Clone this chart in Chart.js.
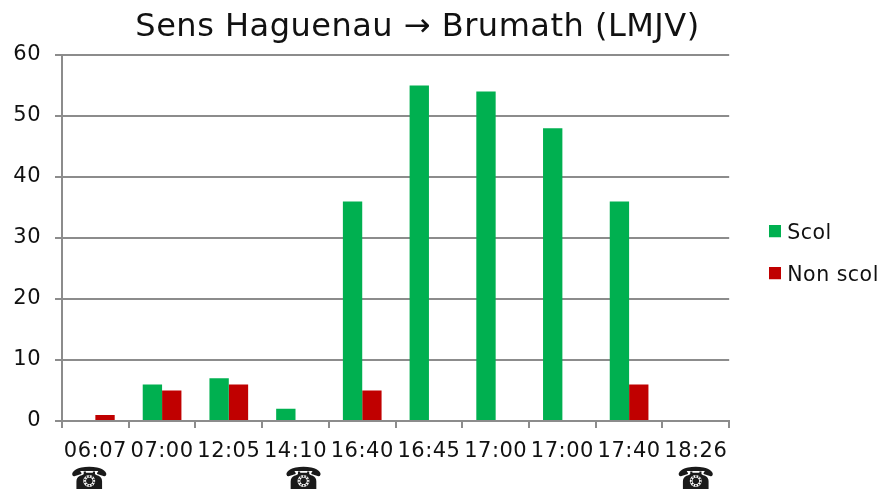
<!DOCTYPE html>
<html><head><meta charset="utf-8">
<style>html,body{margin:0;padding:0;background:#fff}#w{width:881px;height:492px;position:relative}</style>
<script src="https://cdn.jsdelivr.net/npm/chart.js@4"></script>
</head><body><div id="w"><canvas id="c" width="881" height="492"></canvas></div>
<script>
const categories=['06:07','07:00','12:05','14:10','16:40','16:45','17:00','17:00','17:40','18:26'];
const scol=[null,6,7,2,36,55,54,48,36,null];
const nonScol=[1,5,6,null,5,null,null,null,6,null];
const yTicks=[0,10,20,30,40,50,60];
const phoneCategories=[0,3,9];
const phoneNudges=[-6,8,0];
const FONT='"DejaVu Sans", Verdana, sans-serif';
const INK='#111111', RULE='#8c8c8c';
const GREEN='#00b050', RED='#c00000';

function swatch(color){
  const s=document.createElement('canvas'); s.width=12; s.height=16;
  const g=s.getContext('2d'); g.fillStyle=color; g.fillRect(0,0,12,12);
  return s;
}
const placement={
  id:'placement',
  afterLayout(chart){
    const l=chart.legend; const w=l.right-l.left, h=l.bottom-l.top;
    l.left=751; l.right=l.left+w; l.top=201.5; l.bottom=l.top+h;
    const t=chart.titleBlock; t.left=0; t.right=835;
  },
  beforeDraw(chart){ chart.ctx.letterSpacing='0.5px'; }
};
const phones={
  id:'phones',
  afterDraw(chart){
    const x=chart.scales.x, ctx=chart.ctx;
    ctx.save();
    ctx.letterSpacing='0px';
    ctx.font='31px '+FONT; ctx.fillStyle='#1a1a1a'; ctx.textAlign='center'; ctx.textBaseline='middle';
    phoneCategories.forEach((c,i)=>ctx.fillText('\u260E',x.getPixelForValue(c)+phoneNudges[i],481));
    ctx.restore();
  }
};
new Chart(document.getElementById('c'),{
  type:'bar',
  data:{labels:categories,datasets:[
    {label:'Scol',data:scol,backgroundColor:GREEN},
    {label:'Non scol',data:nonScol,backgroundColor:RED}
  ]},
  plugins:[placement,phones],
  options:{
    responsive:false,animation:false,
    layout:{padding:{right:18}},
    datasets:{bar:{categoryPercentage:0.58,barPercentage:1}},
    plugins:{
      tooltip:{enabled:false},
      title:{display:true,text:'Sens Haguenau \u2192 Brumath (LMJV)',color:INK,font:{family:FONT,size:32,weight:'normal'},padding:{top:8,bottom:8.6}},
      legend:{position:'right',align:'start',maxWidth:152,labels:{color:INK,font:{family:FONT,size:20.5},boxWidth:4.5,boxHeight:12,padding:21.5,usePointStyle:true,
        generateLabels(chart){
          return Chart.defaults.plugins.legend.labels.generateLabels(chart).map((it,i)=>Object.assign(it,{pointStyle:swatch([GREEN,RED][i])}));
        }}}
    },
    scales:{
      x:{offset:true,
         afterFit(s){s.height=71;},
         grid:{color:RULE,lineWidth:2,drawOnChartArea:false,tickLength:7,offset:true},
         border:{color:RULE,width:2},
         ticks:{color:INK,font:{family:FONT,size:21},maxRotation:0,autoSkip:false,padding:11}},
      y:{min:0,max:60,
         afterBuildTicks(s){s.ticks=yTicks.map(v=>({value:v}));},
         afterFit(s){s.width=62;},
         grid:{color:RULE,lineWidth:2,tickLength:7},
         border:{color:RULE,width:2},
         ticks:{color:INK,font:{family:FONT,size:21},padding:14}}
    }
  }
});
</script></body></html>
